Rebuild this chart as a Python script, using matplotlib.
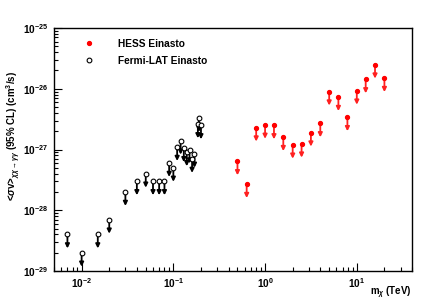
import numpy as np
import matplotlib
matplotlib.use("Agg")
import matplotlib.pyplot as plt
from matplotlib.lines import Line2D

plt.rcParams['font.family'] = ['Liberation Sans', 'DejaVu Sans']
plt.rcParams['font.weight'] = 'bold'
plt.rcParams['mathtext.fontset'] = 'custom'
plt.rcParams['mathtext.rm'] = 'Liberation Sans:bold'
plt.rcParams['mathtext.it'] = 'Liberation Sans:italic'
plt.rcParams['mathtext.bf'] = 'Liberation Sans:bold'

# HESS Einasto limits (TeV, cm^3/s)
hess_mass = [0.5, 0.63, 0.8, 1.0, 1.25, 1.58, 2.0, 2.5, 3.16, 4.0, 5.0, 6.3, 7.9, 10.0, 12.5, 15.8, 20.0]
hess_sv = [6.4e-28, 2.7e-28, 2.3e-27, 2.55e-27, 2.5e-27, 1.6e-27, 1.2e-27, 1.25e-27, 1.9e-27,
           2.7e-27, 9.0e-27, 7.3e-27, 3.4e-27, 9.3e-27, 1.43e-26, 2.5e-26, 1.5e-26]

# Fermi-LAT Einasto limits
fermi_mass = [0.007, 0.01, 0.015, 0.02, 0.03, 0.04, 0.05, 0.06, 0.07, 0.08, 0.09, 0.1,
              0.11, 0.12, 0.13, 0.14, 0.15, 0.16, 0.17, 0.185, 0.19, 0.2]
fermi_sv = [4e-29, 2e-29, 4e-29, 7e-29, 2e-28, 3e-28, 4e-28, 3e-28, 3e-28, 3e-28, 6e-28, 5e-28,
            1.1e-27, 1.4e-27, 1.05e-27, 9e-28, 1.0e-27, 7e-28, 8.5e-28, 2.6e-27, 3.3e-27, 2.5e-27]

arrow_drop = 10**-0.23

fig = plt.figure(figsize=(4.36, 3.08), dpi=100)
ax = fig.add_axes([0.1239, 0.1201, 0.8211, 0.7889])
ax.set_xscale('log')
ax.set_yscale('log')
ax.set_xlim(0.005, 40)
ax.set_ylim(1e-29, 1e-25)

# upper limit arrows
for m, s in zip(fermi_mass, fermi_sv):
    ax.annotate('', xy=(m, s*arrow_drop), xytext=(m, s),
                arrowprops=dict(arrowstyle='-|>', color='black', lw=1.3,
                                mutation_scale=6, shrinkA=0, shrinkB=0), zorder=2)
for m, s in zip(hess_mass, hess_sv):
    ax.annotate('', xy=(m, s*arrow_drop), xytext=(m, s),
                arrowprops=dict(arrowstyle='-|>', color='#ff2020', lw=1.3,
                                mutation_scale=6, shrinkA=0, shrinkB=0), zorder=2)

ax.plot(hess_mass, hess_sv, 'o', color='red', ms=2.8, mec='red', ls='none', zorder=3)
ax.plot(fermi_mass, fermi_sv, 'o', mfc='white', mec='black', ms=3.4, mew=0.8, ls='none', zorder=3)

handles = [Line2D([], [], marker='o', color='red', ms=2.8, ls='none'),
           Line2D([], [], marker='o', mfc='white', mec='black', ms=3.4, mew=0.8, ls='none')]
ax.legend(handles, ['HESS Einasto', 'Fermi-LAT Einasto'], loc='upper left',
          bbox_to_anchor=(0.05, 0.985), frameon=False, fontsize=7.3,
          handletextpad=1.85, labelspacing=0.7, borderaxespad=0.3)

ax.tick_params(which='both', direction='in', top=False, right=False, labelsize=7.3, pad=4)
ax.tick_params(which='major', length=6, width=0.8)
ax.tick_params(which='minor', length=3, width=0.8)
for sp in ax.spines.values():
    sp.set_linewidth(1.0)

ax.set_ylabel(r'<$\sigma$v>$_{\chi\chi\rightarrow\gamma\gamma}$ (95% CL) (cm$^3$/s)',
              fontsize=7, fontweight='bold')
ax.yaxis.set_label_coords(-0.088, 0.555)
ax.set_xlabel(r'm$_{\chi}$ (TeV)', fontsize=7, fontweight='bold', ha='right')
ax.xaxis.set_label_coords(1.0, -0.055)

fig.savefig('out.png', dpi=100)
